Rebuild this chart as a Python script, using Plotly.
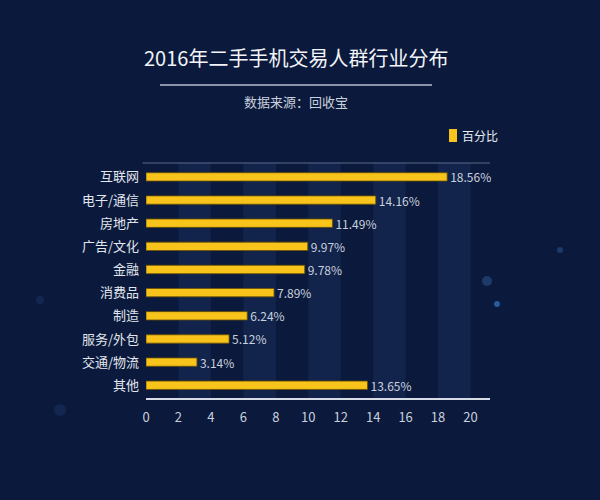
import plotly.graph_objects as go

categories = ["互联网", "电子/通信", "房地产", "广告/文化", "金融", "消费品", "制造", "服务/外包", "交通/物流", "其他"]
values = [18.56, 14.16, 11.49, 9.97, 9.78, 7.89, 6.24, 5.12, 3.14, 13.65]
labels = [f"{v:.2f}%" for v in values]
tick_vals = [0, 2, 4, 6, 8, 10, 12, 14, 16, 18, 20]
band_starts = [2, 6, 10, 14, 18]
series_name = "百分比"

FONT = "Noto Sans CJK SC"
BG = "#0b1a3c"

fig = go.Figure()
fig.add_trace(go.Bar(
    y=categories, x=values, orientation="h",
    name=series_name,
    width=0.36,
    marker=dict(color="#f8c31b", line=dict(color="#6b5200", width=0.8)),
    text=labels, textposition="outside", constraintext="none",
    textfont=dict(color="#c9d0dd", size=12, family=FONT),
    cliponaxis=False,
    showlegend=False,
))

def px(x):
    return (x - 146) / 344

def py(y):
    return (398 - y) / 235

shapes = []
for s in band_starts:
    shapes.append(dict(type="rect", xref="x", yref="paper", x0=s, x1=s + 2, y0=0, y1=1,
                       fillcolor="#12244c", line=dict(width=0), layer="below"))
# top line of plot area
shapes.append(dict(type="line", xref="paper", yref="paper", x0=-0.01, x1=1, y0=1, y1=1,
                   line=dict(color="#5a6a8a", width=1)))
# title underline
shapes.append(dict(type="line", xref="paper", yref="paper", x0=px(160), x1=px(432),
                   y0=py(85), y1=py(85), line=dict(color="#8a93a8", width=2)))
# legend swatch
shapes.append(dict(type="rect", xref="paper", yref="paper", x0=px(449), x1=px(457),
                   y0=py(142), y1=py(129), fillcolor="#f8c31b", line=dict(width=0)))
# decorative faint dots
for cx, cy, r, c in [(487, 281, 5, "#1c3a6a"), (497, 304, 3, "#2a5a99"), (40, 300, 4, "#13264f"),
                     (60, 410, 6, "#13264f"), (560, 250, 3, "#1c3a6a")]:
    shapes.append(dict(type="circle", xref="paper", yref="paper",
                       x0=px(cx - r), x1=px(cx + r), y0=py(cy + r), y1=py(cy - r),
                       fillcolor=c, line=dict(width=0), layer="below"))

fig.update_layout(
    width=600, height=500,
    paper_bgcolor=BG, plot_bgcolor=BG,
    margin=dict(l=146, r=110, t=163, b=102),
    font=dict(family=FONT, color="#d0d6e2"),
    shapes=shapes,
    showlegend=False,
    xaxis=dict(range=[0, 21.2], tickvals=tick_vals, showgrid=False, zeroline=False,
               showline=True, linecolor="#d6dbe6", linewidth=2,
               tickfont=dict(size=13, color="#c9d0dd", family=FONT), ticks="", ticklabelstandoff=6),
    yaxis=dict(categoryorder="array", categoryarray=categories, range=[9.55, -0.6],
               showgrid=False, zeroline=False, showline=False,
               tickfont=dict(size=13, color="#e2e6ee", family=FONT), ticks="", ticklabelstandoff=6),
    annotations=[
        dict(text="2016年二手手机交易人群行业分布", xref="paper", yref="paper",
             x=px(296), y=py(58), showarrow=False,
             font=dict(size=20, color="#f2f4f8", family=FONT), xanchor="center", yanchor="middle"),
        dict(text="数据来源：回收宝", xref="paper", yref="paper",
             x=px(296), y=py(101), showarrow=False,
             font=dict(size=13, color="#c9d0dd", family=FONT), xanchor="center", yanchor="middle"),
        dict(text=series_name, xref="paper", yref="paper",
             x=px(460), y=py(135), showarrow=False,
             font=dict(size=12, color="#e8ecf2", family=FONT), xanchor="left", yanchor="middle"),
    ],
)

fig.write_html("out.html", config={"displayModeBar": False},
               post_script="document.body.style.margin='0';document.body.style.background='" + BG + "';")
